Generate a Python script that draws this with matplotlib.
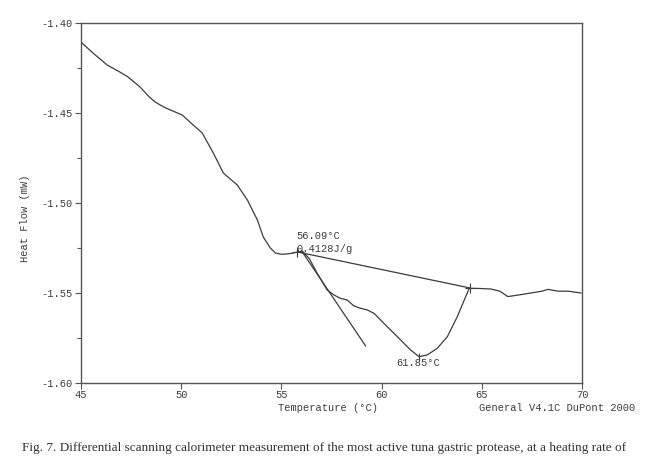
import matplotlib
matplotlib.use("Agg")
import matplotlib.pyplot as plt
from matplotlib.ticker import MultipleLocator

# DSC trace
temp = [45.0, 45.6, 46.3, 46.9, 47.35, 47.95, 48.4, 48.7, 49.1, 49.45, 50.05, 50.6, 51.05,
        51.6, 52.1, 52.5, 52.8, 53.3, 53.8, 54.1, 54.45, 54.7, 55.0, 55.3, 55.6, 55.8,
        56.05, 56.4, 56.78, 57.0, 57.28, 57.62, 57.95, 58.28, 58.62, 58.95, 59.28,
        59.62, 60.28, 60.95, 61.45, 61.87, 62.28, 62.78, 63.28, 63.78, 64.37,
        64.9, 65.45, 65.9, 66.3, 66.9, 67.45, 68.0, 68.3, 68.8, 69.3, 69.95]
heat_flow = [-1.4106, -1.4167, -1.4233, -1.4270, -1.4300, -1.4356, -1.4410, -1.4439, -1.4465, -1.4483,
             -1.4511, -1.4567, -1.4611, -1.4722, -1.4833, -1.4872, -1.4900, -1.4983, -1.5094, -1.5190,
             -1.5250, -1.5278, -1.5285, -1.5283, -1.5278, -1.5272, -1.5268, -1.5310, -1.5390, -1.5430,
             -1.5483, -1.5511, -1.5530, -1.5539, -1.5572, -1.5585, -1.5594, -1.5613, -1.5687, -1.5761,
             -1.5817, -1.5854, -1.5844, -1.5807, -1.5743, -1.5631, -1.5474,
             -1.5475, -1.5478, -1.5490, -1.5520, -1.5510, -1.5500, -1.5490, -1.5480, -1.5490, -1.5490, -1.5500]

# construction lines
tangent_t = [56.0, 59.2]
tangent_v = [-1.5265, -1.5794]
baseline_t = [55.8, 64.4]
baseline_v = [-1.5272, -1.5472]
peak_t, peak_v = 61.87, -1.5854

onset_label = "56.09°C"
enthalpy_label = "0.4128J/g"
peak_label = "61.85°C"

ink = "#3c3c3c"
mono = "Liberation Mono"

fig = plt.figure(figsize=(6.5, 4.58), dpi=100)
ax = fig.add_axes([0.1246, 0.1638, 0.7708, 0.786])

ax.plot(temp, heat_flow, color=ink, lw=0.9)
ax.plot(tangent_t, tangent_v, color=ink, lw=0.9)
ax.plot(baseline_t, baseline_v, color=ink, lw=0.9)
ax.plot([baseline_t[0], baseline_t[1]], [baseline_v[0], baseline_v[1]],
        ls="none", marker="+", ms=7, mew=0.8, color=ink)
ax.plot([peak_t], [peak_v], ls="none", marker="|", ms=6, mew=0.8, color=ink)

ax.text(55.75, -1.5183, onset_label, fontsize=7.5, family=mono, color=ink,
        ha="left", va="center")
ax.text(55.75, -1.5256, enthalpy_label, fontsize=7.5, family=mono, color=ink,
        ha="left", va="center")
ax.text(61.8, -1.5889, peak_label, fontsize=7.5, family=mono, color=ink,
        ha="center", va="center")

ax.set_xlim(45, 70)
ax.set_ylim(-1.60, -1.40)
ax.xaxis.set_major_locator(MultipleLocator(5))
ax.yaxis.set_major_locator(MultipleLocator(0.05))
ax.yaxis.set_minor_locator(MultipleLocator(0.025))
ax.set_yticklabels([f"{v:.2f}" for v in ax.get_yticks()])

for s in ax.spines.values():
    s.set_color("#555555")
    s.set_linewidth(1.0)
ax.tick_params(which="major", direction="out", length=4, width=0.8, colors="#555555",
               labelsize=7.5, labelcolor=ink)
ax.tick_params(which="minor", direction="out", length=3, width=0.8, colors="#555555")
for lab in ax.get_xticklabels() + ax.get_yticklabels():
    lab.set_family(mono)
ax.tick_params(axis="x", pad=1)
ax.tick_params(axis="y", pad=2)

fig.text(0.038, 0.524, "Heat Flow (mW)", rotation=90, fontsize=7.5, family=mono,
         color=ink, ha="center", va="center")
fig.text(0.505, 0.109, "Temperature (°C)", fontsize=7.5, family=mono, color=ink,
         ha="center", va="center")
fig.text(0.977, 0.109, "General V4.1C DuPont 2000", fontsize=7.5, family=mono,
         color=ink, ha="right", va="center")

fig.text(0.034, 0.022, "Fig. 7. Differential scanning calorimeter measurement of the most "
         "active tuna gastric protease, at a heating rate of",
         fontsize=9.5, family="Liberation Serif", color="#333333", ha="left", va="center")

fig.savefig("out.png", dpi=100)
